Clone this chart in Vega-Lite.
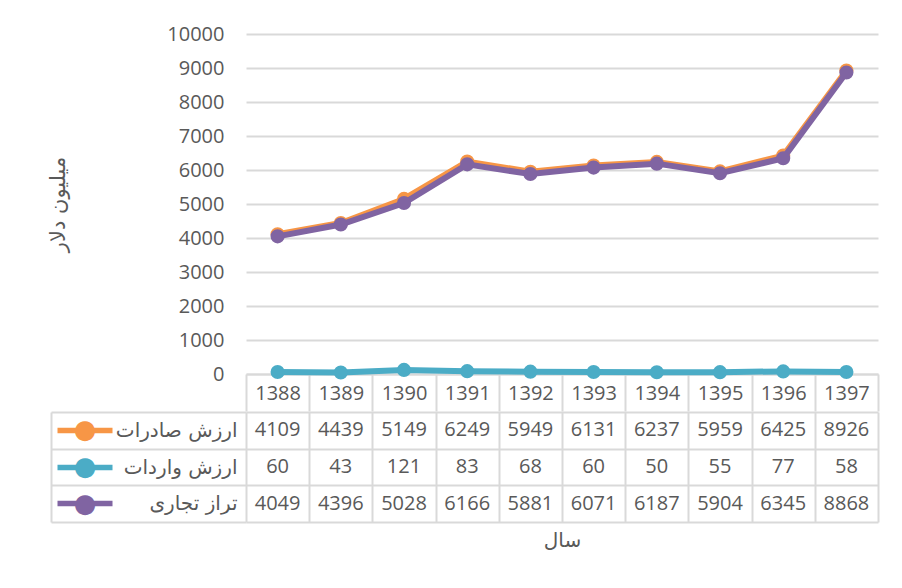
{
  "$schema": "https://vega.github.io/schema/vega-lite/v6.json",
  "padding": {"left": 47, "top": 24, "right": 5, "bottom": 5},
  "background": "white",
  "config": {"view": {"stroke": null}, "font": "Open Sans"},
  "spacing": -10,
  "datasets": {
    "trade": [
      {"year": "1388", "series": "ارزش صادرات", "value": 4109},
      {"year": "1389", "series": "ارزش صادرات", "value": 4439},
      {"year": "1390", "series": "ارزش صادرات", "value": 5149},
      {"year": "1391", "series": "ارزش صادرات", "value": 6249},
      {"year": "1392", "series": "ارزش صادرات", "value": 5949},
      {"year": "1393", "series": "ارزش صادرات", "value": 6131},
      {"year": "1394", "series": "ارزش صادرات", "value": 6237},
      {"year": "1395", "series": "ارزش صادرات", "value": 5959},
      {"year": "1396", "series": "ارزش صادرات", "value": 6425},
      {"year": "1397", "series": "ارزش صادرات", "value": 8926},
      {"year": "1388", "series": "ارزش واردات", "value": 60},
      {"year": "1389", "series": "ارزش واردات", "value": 43},
      {"year": "1390", "series": "ارزش واردات", "value": 121},
      {"year": "1391", "series": "ارزش واردات", "value": 83},
      {"year": "1392", "series": "ارزش واردات", "value": 68},
      {"year": "1393", "series": "ارزش واردات", "value": 60},
      {"year": "1394", "series": "ارزش واردات", "value": 50},
      {"year": "1395", "series": "ارزش واردات", "value": 55},
      {"year": "1396", "series": "ارزش واردات", "value": 77},
      {"year": "1397", "series": "ارزش واردات", "value": 58},
      {"year": "1388", "series": "تراز تجاری", "value": 4049},
      {"year": "1389", "series": "تراز تجاری", "value": 4396},
      {"year": "1390", "series": "تراز تجاری", "value": 5028},
      {"year": "1391", "series": "تراز تجاری", "value": 6166},
      {"year": "1392", "series": "تراز تجاری", "value": 5881},
      {"year": "1393", "series": "تراز تجاری", "value": 6071},
      {"year": "1394", "series": "تراز تجاری", "value": 6187},
      {"year": "1395", "series": "تراز تجاری", "value": 5904},
      {"year": "1396", "series": "تراز تجاری", "value": 6345},
      {"year": "1397", "series": "تراز تجاری", "value": 8868}
    ]
  },
  "vconcat": [
    {
      "width": 632,
      "height": 340,
      "data": {"name": "trade"},
      "encoding": {
        "x": {
          "field": "year", "type": "ordinal", "bandPosition": 0.5,
          "scale": {"type": "band", "paddingInner": 0, "paddingOuter": 0},
          "axis": {
            "title": null, "orient": "bottom", "grid": false,
            "domain": true, "domainColor": "#D9D9D9", "domainWidth": 2,
            "ticks": true, "tickBand": "extent", "tickSize": 37, "tickColor": "#D9D9D9", "tickWidth": 2,
            "labelAngle": 0, "labelFontSize": 20, "labelColor": "#595959", "labelFont": "Open Sans",
            "labelPadding": -27.5
          }
        },
        "y": {
          "field": "value", "type": "quantitative",
          "scale": {"domain": [0, 10000], "nice": false},
          "axis": {
            "title": "میلیون دلار", "values": [0, 1000, 2000, 3000, 4000, 5000, 6000, 7000, 8000, 9000, 10000],
            "format": "d", "grid": true, "gridColor": "#D9D9D9", "gridWidth": 2,
            "domain": false, "ticks": false, "labelPadding": 22, "labelFontSize": 20,
            "labelColor": "#595959", "labelFont": "Open Sans",
            "titleFontSize": 21, "titleColor": "#595959", "titleFontWeight": "normal",
            "titleFont": "DejaVu Sans", "titlePadding": 98
          }
        },
        "color": {
          "field": "series", "type": "nominal",
          "scale": {"domain": ["ارزش صادرات", "ارزش واردات", "تراز تجاری"], "range": ["#F79646", "#4BACC6", "#8064A2"]},
          "legend": null
        }
      },
      "layer": [
        {"transform": [{"filter": "datum.series === 'ارزش صادرات'"}], "mark": {"type": "line", "strokeWidth": 6, "point": {"filled": true, "size": 200, "opacity": 1}}},
        {"transform": [{"filter": "datum.series === 'ارزش واردات'"}], "mark": {"type": "line", "strokeWidth": 6, "point": {"filled": true, "size": 200, "opacity": 1}}},
        {"transform": [{"filter": "datum.series === 'تراز تجاری'"}], "mark": {"type": "line", "strokeWidth": 6, "point": {"filled": true, "size": 200, "opacity": 1}}}
      ]
    },
    {
      "width": 632,
      "height": 110,
      "data": {"name": "trade"},
      "layer": [
        {
          "mark": {"type": "text", "fontSize": 20, "color": "#595959", "font": "Open Sans", "baseline": "middle"},
          "encoding": {
            "x": {
              "field": "year", "type": "ordinal", "bandPosition": 0.5,
              "scale": {"type": "band", "paddingInner": 0, "paddingOuter": 0},
              "axis": {
                "title": "سال", "orient": "bottom", "labels": false, "ticks": false, "domain": false,
                "grid": true, "tickBand": "extent", "gridColor": "#D9D9D9", "gridWidth": 2,
                "titleFontSize": 20, "titleColor": "#595959", "titleFontWeight": "normal",
                "titleFont": "DejaVu Sans", "titlePadding": 8
              }
            },
            "y": {
              "field": "series", "type": "nominal", "bandPosition": 0.5,
              "sort": ["ارزش صادرات", "ارزش واردات", "تراز تجاری"],
              "scale": {"type": "band", "paddingInner": 0, "paddingOuter": 0},
              "axis": {
                "title": null, "orient": "left", "offset": 195,
                "domain": true, "domainColor": "#D9D9D9", "domainWidth": 2,
                "ticks": true, "tickBand": "extent", "tickSize": -195, "tickColor": "#D9D9D9", "tickWidth": 2,
                "grid": true, "gridColor": "#D9D9D9", "gridWidth": 2,
                "labelPadding": 9, "labelFontSize": 20, "labelColor": "#595959", "labelFont": "DejaVu Sans"
              }
            },
            "text": {"field": "value", "type": "quantitative", "format": "d"}
          }
        },
        {
          "mark": {"type": "text", "opacity": 0},
          "encoding": {
            "y": {
              "field": "series", "type": "nominal", "bandPosition": 0.5,
              "sort": ["ارزش صادرات", "ارزش واردات", "تراز تجاری"],
              "scale": {"type": "band", "paddingInner": 0, "paddingOuter": 0},
              "axis": {
                "title": null, "orient": "left", "offset": 134, "domain": false, "grid": false,
                "ticks": true, "tickSize": 55, "tickWidth": 5.5,
                "tickColor": {"condition": [{"test": "datum.value === 'ارزش صادرات'", "value": "#F79646"}, {"test": "datum.value === 'ارزش واردات'", "value": "#4BACC6"}], "value": "#8064A2"},
                "labelExpr": "'●'",
                "labelColor": {"condition": [{"test": "datum.value === 'ارزش صادرات'", "value": "#F79646"}, {"test": "datum.value === 'ارزش واردات'", "value": "#4BACC6"}], "value": "#8064A2"},
                "labelFontSize": 26, "labelFont": "DejaVu Sans", "labelAlign": "center", "labelBaseline": "middle",
                "labelPadding": -27.5
              }
            },
            "text": {"value": ""}
          }
        }
      ],
      "resolve": {"scale": {"y": "independent"}, "axis": {"y": "independent"}}
    }
  ]
}
